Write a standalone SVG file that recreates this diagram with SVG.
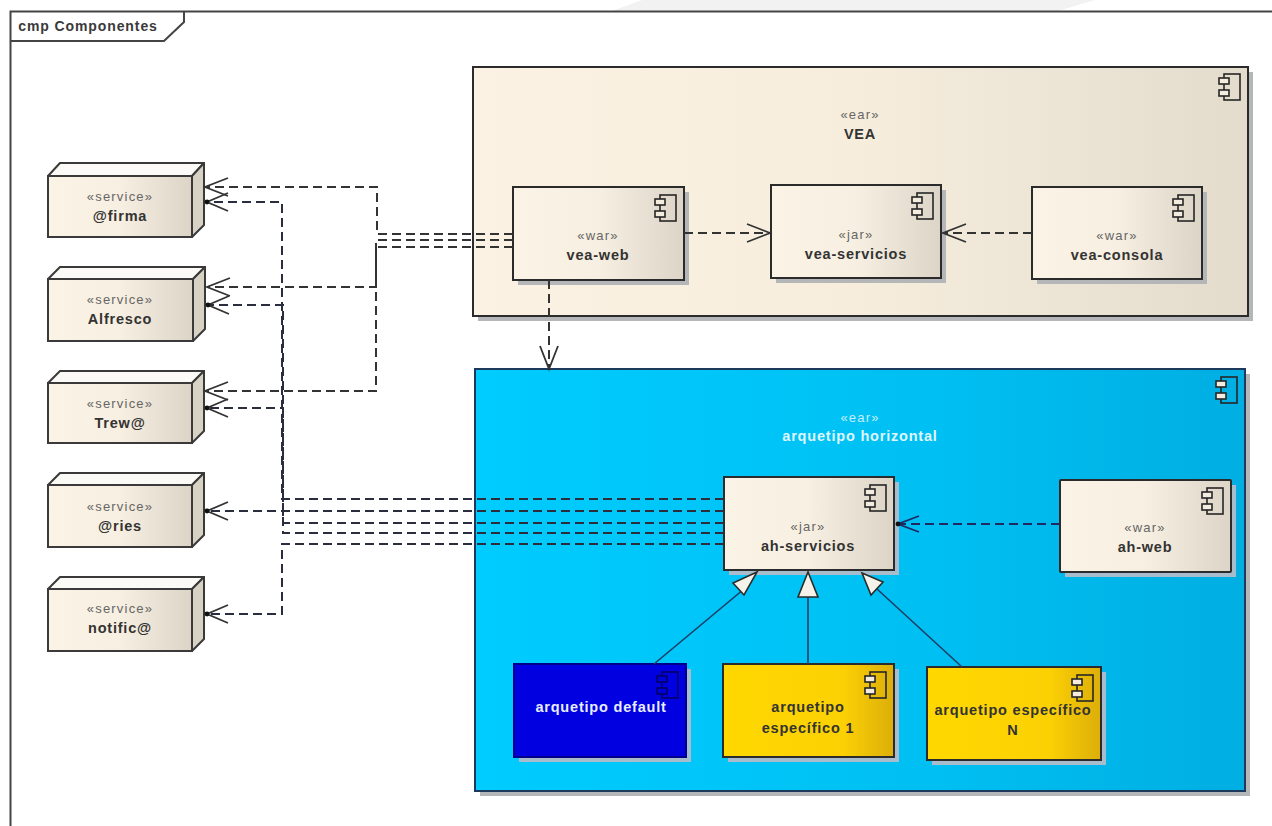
<svg xmlns="http://www.w3.org/2000/svg" width="1272" height="826" viewBox="0 0 1272 826">
<style>
text{font-family:"Liberation Sans",Arial,sans-serif;text-anchor:middle}
.st{font-size:13px;letter-spacing:1.2px;fill:#666}
.nm{font-size:14.5px;font-weight:bold;letter-spacing:.8px;fill:#333}
.box{stroke:#2b2b2b;stroke-width:2}
.sh{fill:#b4b6b8}
.shb{fill:#a9bccb}
.ic{fill:none;stroke:#262626;stroke-width:1.6}
.icf{fill:#f3ecdf;stroke:#262626;stroke-width:1.6}
.cn{fill:none;stroke:#333;stroke-width:2;stroke-dasharray:9 5}
.cb{fill:none;stroke:#2a2d3d;stroke-width:2;stroke-dasharray:9 5}
.cd{fill:none;stroke:#1f2a62;stroke-width:2;stroke-dasharray:9 5}
.ln{fill:none;stroke:#1f3d66;stroke-width:1.6}
.tri{fill:#f5f2ea;stroke:#2b2b2b;stroke-width:1.6}
.top{fill:#fbfaf6;stroke:#3a3a3a;stroke-width:2;stroke-linejoin:round}
.side{fill:#d8d2c4;stroke:#3a3a3a;stroke-width:2;stroke-linejoin:round}
</style>
<defs>
<linearGradient id="beige"><stop offset="0" stop-color="#fbf3e5"/><stop offset=".5" stop-color="#f7efe1"/><stop offset="1" stop-color="#dcd4c6"/></linearGradient>
<linearGradient id="vea"><stop offset="0" stop-color="#fbf2e3"/><stop offset=".5" stop-color="#f6eddd"/><stop offset="1" stop-color="#e3dccd"/></linearGradient>
<linearGradient id="blue"><stop offset="0" stop-color="#00ccff"/><stop offset=".6" stop-color="#00bff2"/><stop offset="1" stop-color="#00aee2"/></linearGradient>
<linearGradient id="yellow"><stop offset="0" stop-color="#ffd800"/><stop offset=".7" stop-color="#fcd104"/><stop offset="1" stop-color="#dcae0a"/></linearGradient>
<g id="ci"><rect class="ic" x="-24" y="8" width="16" height="26"/><rect class="icf" x="-29" y="12" width="10" height="6"/><rect class="icf" x="-29" y="24" width="10" height="6"/></g>
<g id="cid"><rect x="-24" y="8" width="16" height="26" fill="none" stroke="#00006a" stroke-width="1.6"/><rect x="-29" y="12" width="10" height="6" fill="#0000d8" stroke="#00006a" stroke-width="1.6"/><rect x="-29" y="24" width="10" height="6" fill="#0000d8" stroke="#00006a" stroke-width="1.6"/></g>
<marker id="open" markerUnits="userSpaceOnUse" viewBox="-25 -12 28 24" markerWidth="28" markerHeight="24" refX="0" refY="0" orient="auto"><path d="M-23,-9 L0,0 L-23,9" fill="none" stroke="#333" stroke-width="1.8"/></marker>
<marker id="dot" markerUnits="userSpaceOnUse" viewBox="-25 -12 30 24" markerWidth="30" markerHeight="24" refX="0" refY="0" orient="auto"><path d="M-21,-9 L0,0 L-21,9" fill="none" stroke="#333" stroke-width="1.8"/><circle r="2.4" fill="#111"/></marker>
<marker id="dotb" markerUnits="userSpaceOnUse" viewBox="-25 -12 30 24" markerWidth="30" markerHeight="24" refX="0" refY="0" orient="auto"><path d="M-21,-8 L0,0 L-21,8" fill="none" stroke="#1f2a62" stroke-width="1.8"/><circle r="2.4" fill="#111"/></marker>
</defs>
<rect width="1272" height="826" fill="#fff"/>
<path d="M642,0H1095L1058,11H612Z" fill="#f2f2f2"/>

<g id="frame">
<path d="M10.5,826V11.5H1272" fill="none" stroke="#444" stroke-width="2"/>
<path d="M10.5,41H164L184,22V11.5" fill="none" stroke="#444" stroke-width="2"/>
<text x="88" y="31" style="font-size:14px;font-weight:bold;letter-spacing:.9px;fill:#3a3a3a">cmp Componentes</text>
</g>

<g id="VEA">
<rect class="sh" x="478" y="72" width="775" height="249"/>
<rect class="box" x="473" y="67" width="775" height="249" fill="url(#vea)"/>
<use href="#ci" x="1248" y="66"/>
<text class="st" x="860" y="119">«ear»</text>
<text class="nm" x="860" y="139">VEA</text>
</g>

<g id="arquetipo-horizontal">
<rect class="sh" x="480" y="374" width="770" height="422"/>
<rect x="475" y="369" width="770" height="422" fill="url(#blue)" stroke="#1d3a5c" stroke-width="2"/>
<use href="#ci" x="1245" y="369"/>
<text class="st" x="860" y="422" style="fill:#c8eefc">«ear»</text>
<text class="nm" x="860" y="441" style="fill:#dff6ff">arquetipo horizontal</text>
</g>

<g id="firma">
<path class="top" d="M48,176L60,163H204L192,176Z"/><path class="side" d="M192,176L204,163V225L192,237Z"/>
<rect x="48" y="176" width="144" height="61" fill="url(#beige)" stroke="#3a3a3a" stroke-width="2"/>
<text class="st" x="120" y="201">«service»</text><text class="nm" x="120" y="221">@firma</text>
</g>
<g id="alfresco">
<path class="top" d="M48,279L60,267H205L193,279Z"/><path class="side" d="M193,279L205,267V329L193,341Z"/>
<rect x="48" y="279" width="145" height="62" fill="url(#beige)" stroke="#3a3a3a" stroke-width="2"/>
<text class="st" x="120" y="304">«service»</text><text class="nm" x="120" y="324">Alfresco</text>
</g>
<g id="trew">
<path class="top" d="M48,383L60,371H204L192,383Z"/><path class="side" d="M192,383L204,371V431L192,443Z"/>
<rect x="48" y="383" width="144" height="60" fill="url(#beige)" stroke="#3a3a3a" stroke-width="2"/>
<text class="st" x="120" y="408">«service»</text><text class="nm" x="120" y="428">Trew@</text>
</g>
<g id="ries">
<path class="top" d="M48,485L60,473H204L192,485Z"/><path class="side" d="M192,485L204,473V535L192,547Z"/>
<rect x="48" y="485" width="144" height="62" fill="url(#beige)" stroke="#3a3a3a" stroke-width="2"/>
<text class="st" x="120" y="511">«service»</text><text class="nm" x="120" y="531">@ries</text>
</g>
<g id="notifica">
<path class="top" d="M48,589L60,577H204L192,589Z"/><path class="side" d="M192,589L204,577V639L192,651Z"/>
<rect x="48" y="589" width="144" height="62" fill="url(#beige)" stroke="#3a3a3a" stroke-width="2"/>
<text class="st" x="120" y="613">«service»</text><text class="nm" x="120" y="633">notific@</text>
</g>

<g id="vea-web">
<rect class="sh" x="518" y="192" width="171" height="93"/>
<rect class="box" x="513" y="187" width="171" height="93" fill="url(#beige)"/>
<use href="#ci" x="684" y="187"/>
<text class="st" x="598" y="240">«war»</text><text class="nm" x="598" y="260">vea-web</text>
</g>
<g id="vea-servicios">
<rect class="sh" x="776" y="190" width="170" height="93"/>
<rect class="box" x="771" y="185" width="170" height="93" fill="url(#beige)"/>
<use href="#ci" x="941" y="185"/>
<text class="st" x="856" y="239">«jar»</text><text class="nm" x="856" y="259">vea-servicios</text>
</g>
<g id="vea-consola">
<rect class="sh" x="1037" y="192" width="170" height="92"/>
<rect class="box" x="1032" y="187" width="170" height="92" fill="url(#beige)"/>
<use href="#ci" x="1202" y="187"/>
<text class="st" x="1117" y="240">«war»</text><text class="nm" x="1117" y="260">vea-consola</text>
</g>

<g id="ah-servicios">
<rect class="shb" x="729" y="482" width="170" height="93"/>
<rect x="724" y="477" width="170" height="93" fill="url(#beige)" stroke="#2b2b2b" stroke-width="2"/>
<use href="#ci" x="894" y="477"/>
<text class="st" x="808" y="531">«jar»</text><text class="nm" x="808" y="551">ah-servicios</text>
</g>
<g id="ah-web">
<rect class="shb" x="1065" y="485" width="171" height="92"/>
<rect x="1060" y="480" width="171" height="92" rx="1" fill="url(#beige)" stroke="#2b2b2b" stroke-width="2"/>
<use href="#ci" x="1231" y="480"/>
<text class="st" x="1145" y="532">«war»</text><text class="nm" x="1145" y="552">ah-web</text>
</g>
<g id="arquetipo-default">
<rect class="shb" x="519" y="669" width="172" height="93"/>
<rect x="514" y="664" width="172" height="93" fill="#0000e0" stroke="#00008a" stroke-width="2"/>
<use href="#cid" x="686" y="664"/>
<text class="nm" x="601" y="712" style="fill:#e8ecff">arquetipo default</text>
</g>
<g id="arquetipo-especifico-1">
<rect class="shb" x="728" y="669" width="171" height="93"/>
<rect x="723" y="664" width="171" height="93" fill="url(#yellow)" stroke="#2b2b2b" stroke-width="2"/>
<use href="#ci" x="894" y="664"/>
<text class="nm" x="808" y="712">arquetipo</text><text class="nm" x="808" y="733">específico 1</text>
</g>
<g id="arquetipo-especifico-n">
<rect class="shb" x="932" y="672" width="174" height="93"/>
<rect x="927" y="667" width="174" height="93" fill="url(#yellow)" stroke="#2b2b2b" stroke-width="2"/>
<use href="#ci" x="1101" y="667"/>
<text class="nm" x="1013" y="715">arquetipo específico</text><text class="nm" x="1013" y="735">N</text>
</g>

<g id="connectors">
<path class="cn" marker-end="url(#open)" d="M513,234H377V187H205"/>
<path class="cn" marker-end="url(#open)" d="M513,240H376V287H207"/>
<path class="cn" marker-end="url(#open)" d="M513,247H376V391H205"/>
<path class="cn" marker-end="url(#open)" d="M684,233H770"/>
<path class="cn" marker-end="url(#open)" d="M1032,233H943"/>
<path class="cn" marker-end="url(#open)" d="M549,280V369"/>
<path class="cb" marker-end="url(#dot)" d="M724,499H282V202H207"/>
<path class="cb" marker-end="url(#dot)" d="M724,511H207"/>
<path class="cb" marker-end="url(#dot)" d="M724,523H283V305H208"/>
<path class="cb" marker-end="url(#dot)" d="M724,533H283V408H207"/>
<path class="cb" marker-end="url(#dot)" d="M724,544H282V614H207"/>
<path class="cd" marker-end="url(#dotb)" d="M1060,524H898"/>
<path class="ln" d="M654,664L744,589"/>
<path class="tri" d="M757,572L733,583L744,595Z"/>
<path class="ln" d="M808,664V597"/>
<path class="tri" d="M808,572L798,597H818Z"/>
<path class="ln" d="M962,667L877,589"/>
<path class="tri" d="M862,573L883,582L871,595Z"/>
</g>
</svg>
